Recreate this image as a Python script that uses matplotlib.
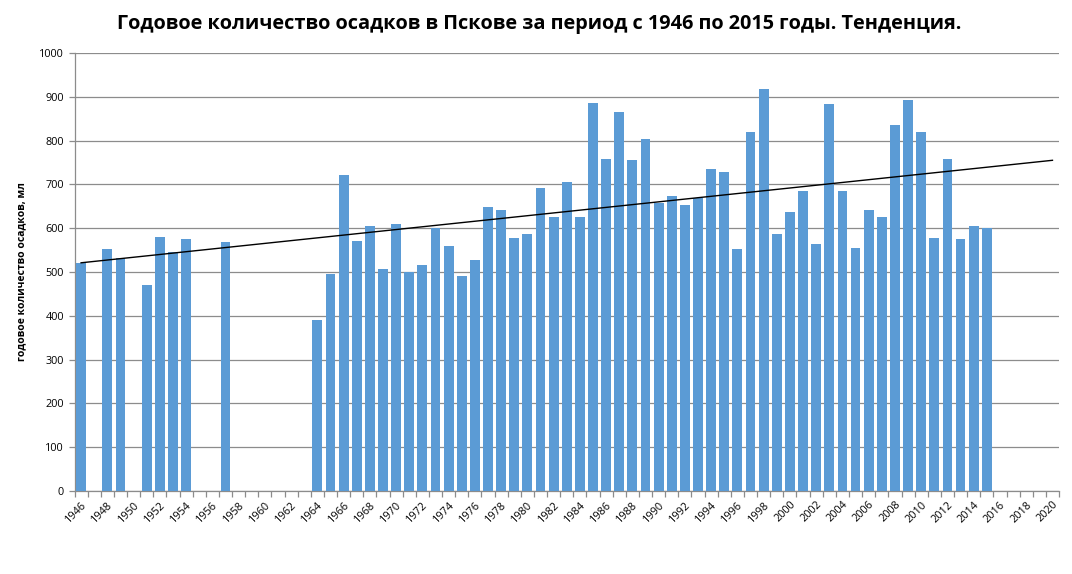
import numpy as np
import matplotlib
matplotlib.use("Agg")
import matplotlib.pyplot as plt

# years that have a measurement (gaps 1947, 1950, 1955-56, 1958-63)
years = [1946, 1948, 1949, 1951, 1952, 1953, 1954, 1957,
         1964, 1965, 1966, 1967, 1968, 1969, 1970, 1971, 1972, 1973, 1974,
         1975, 1976, 1977, 1978, 1979, 1980, 1981, 1982, 1983, 1984, 1985,
         1986, 1987, 1988, 1989, 1990, 1991, 1992, 1993, 1994, 1995, 1996,
         1997, 1998, 1999, 2000, 2001, 2002, 2003, 2004, 2005, 2006, 2007,
         2008, 2009, 2010, 2011, 2012, 2013, 2014, 2015]
precip = [521, 552, 531, 470, 580, 545, 575, 568,
          390, 495, 721, 571, 605, 507, 609, 499, 516, 600, 559,
          491, 527, 648, 641, 577, 587, 692, 625, 705, 625, 886,
          758, 865, 756, 804, 658, 673, 653, 669, 735, 728, 552,
          820, 918, 587, 637, 685, 564, 884, 685, 555, 641, 625,
          836, 893, 820, 577, 758, 575, 605, 600]

# linear trend line as drawn in the original (endpoints)
trend_years = [1946, 2020]
trend_values = [521, 755]

first_year, last_year = 1946, 2020

fonts = ['Open Sans', 'DejaVu Sans']
plt.rcParams['font.family'] = fonts

fig = plt.figure(figsize=(10.72, 5.74), dpi=100)
ax = fig.add_axes([0.0695, 0.1446, 0.9184, 0.7631])

grid_col = '#8c8c8c'
ax.bar(years, precip, width=0.75, color='#5b9bd5', zorder=3)
ax.plot(trend_years, trend_values, color='black', lw=1.0, zorder=4)

ax.set_xlim(first_year - 0.5, last_year + 0.5)
ax.set_ylim(0, 1000)
ax.set_yticks(np.arange(0, 1001, 100))
ax.yaxis.grid(True, color=grid_col, lw=0.9, zorder=0)

# labels every second year, tick marks between categories
label_years = np.arange(first_year, last_year + 1, 2)
ax.set_xticks(label_years)
ax.set_xticklabels([str(y) for y in label_years], rotation=45,
                   ha='right', rotation_mode='anchor', fontsize=7.8)
ax.tick_params(axis='x', which='major', length=0, pad=6)
ax.set_xticks(np.arange(first_year - 0.5, last_year + 1.0, 1), minor=True)
ax.tick_params(axis='x', which='minor', length=4, color=grid_col, width=0.9)
ax.tick_params(axis='y', labelsize=7.8, length=4, color=grid_col, width=0.9)

for s in ['top', 'right']:
    ax.spines[s].set_visible(False)
for s in ['left', 'bottom']:
    ax.spines[s].set_color(grid_col)
    ax.spines[s].set_linewidth(0.9)

ax.set_ylabel('годовое количество осадков, мл', fontsize=7.5,
              fontweight='bold', labelpad=9)
fig.text(0.503, 0.958,
         'Годовое количество осадков в Пскове за период с 1946 по 2015 годы. Тенденция.',
         ha='center', va='center', fontsize=14.3, fontweight='bold')

fig.savefig('out.png', dpi=100)
